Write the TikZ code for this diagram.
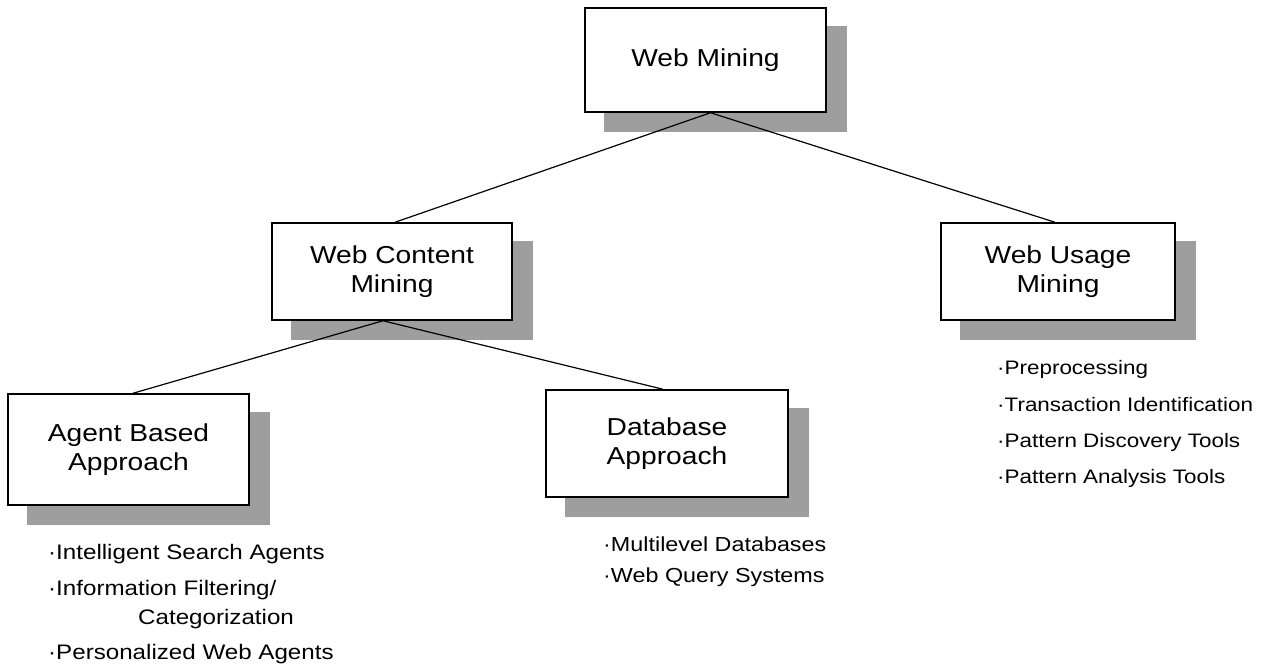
\documentclass[tikz,border=0pt]{standalone}
\usepackage{fontspec}
\setmainfont[FakeStretch=1.15]{Liberation Sans}
\pgfdeclarelayer{bg}
\pgfsetlayers{bg,main}
\begin{document}
\begin{tikzpicture}[x=1pt,y=-1pt,
  box/.style={draw=black, line width=1.5pt, fill=white, align=center,
    inner sep=0pt, font=\fontsize{24.5}{29}\selectfont},
  boxshadow/.style={fill=black!38},
  link/.style={draw=black, line width=1.2pt},
  item/.style={anchor=base west, inner sep=0pt, font=\fontsize{19.5}{23}\selectfont},
  agentitem/.style={item, font=\fontsize{21}{25}\selectfont},
  dbitem/.style={item, font=\fontsize{20.3}{24}\selectfont}]
\useasboundingbox (0,0) rectangle (1276,664);

% boxes of the hierarchy
\node[box, minimum width=241pt, minimum height=104pt] (wm) at (705.5,60) {Web Mining};
\node[box, minimum width=240pt, minimum height=97pt] (wc) at (392,271.5) {Web Content\\Mining};
\node[box, minimum width=234pt, minimum height=97pt] (wu) at (1058,271.5) {Web Usage\\Mining};
\node[box, minimum width=241pt, minimum height=111pt] (ab) at (128.5,449.5) {Agent Based\\Approach};
\node[box, minimum width=242pt, minimum height=107pt] (db) at (667,443.5) {Database\\Approach};

% drop shadows and connectors behind the boxes
\begin{pgfonlayer}{bg}
  \foreach \b in {wm,wc,wu,ab,db}
    \fill[boxshadow] ([shift={(20,19)}]\b.north west) rectangle ([shift={(20,19)}]\b.south east);
  \draw[link] ([xshift=5pt]wm.south) -- ([xshift=3pt]wc.north);
  \draw[link] ([xshift=5pt]wm.south) -- ([xshift=-3pt]wu.north);
  \draw[link] ([xshift=-9pt]wc.south) -- ([xshift=4.5pt]ab.north);
  \draw[link] ([xshift=-9pt]wc.south) -- ([xshift=-4pt]db.north);
\end{pgfonlayer}

% web usage mining topics
\node[item] (u1) at (997,374) {·Preprocessing};
\node[item] (u2) at (997,411) {·Transaction Identification};
\node[item] (u3) at (997,447) {·Pattern Discovery Tools};
\node[item] (u4) at (997,483) {·Pattern Analysis Tools};

% agent based approach topics
\node[agentitem] (a1) at (48,559) {·Intelligent Search Agents};
\node[agentitem] (a2) at (48,595) {·Information Filtering/};
\node[agentitem] (a3) at (138,624) {Categorization};
\node[agentitem] (a4) at (48,659) {·Personalized Web Agents};

% database approach topics
\node[dbitem] (d1) at (603,551) {·Multilevel Databases};
\node[dbitem] (d2) at (603,582) {·Web Query Systems};
\end{tikzpicture}
\end{document}
